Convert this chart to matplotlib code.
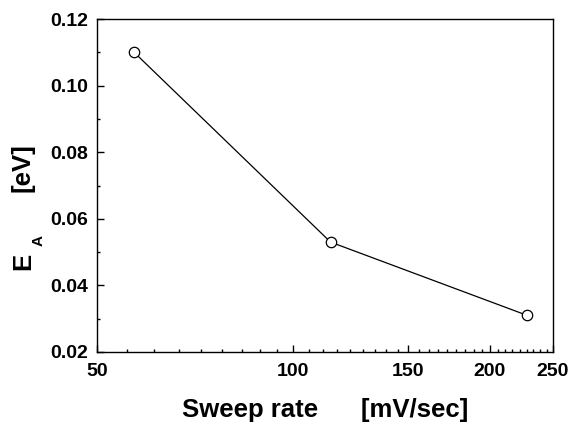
import numpy as np
import matplotlib
matplotlib.use('Agg')
import matplotlib.pyplot as plt
from matplotlib.ticker import FixedLocator, FormatStrFormatter, MultipleLocator

plt.rcParams['font.family'] = 'Liberation Sans'
plt.rcParams['font.weight'] = 'bold'

# sweep rate (mV/sec) vs activation energy (eV)
sweep_rate = [57, 114, 228]
e_a = [0.110, 0.053, 0.031]
x_ticks = [50, 100, 150, 200, 250]

W, H = 571, 425
fig = plt.figure(figsize=(W / 100, H / 100), dpi=100)
ax = fig.add_axes([0.17, 0.172, 0.7985, 0.783])

ax.plot(sweep_rate, e_a, color='black', lw=0.9, marker='o', ms=7.5,
        mfc='white', mec='black', mew=0.9)

ax.set_xscale('log')
ax.set_xlim(50, 250)
ax.set_ylim(0.02, 0.12)

ax.xaxis.set_major_locator(FixedLocator(x_ticks))
minor = []
for a, b in zip(x_ticks[:-1], x_ticks[1:]):
    minor += list(np.linspace(a, b, 10)[1:-1])
ax.xaxis.set_minor_locator(FixedLocator(minor))
ax.xaxis.set_major_formatter(FormatStrFormatter('%d'))
ax.xaxis.set_minor_formatter(plt.NullFormatter())

ax.yaxis.set_major_locator(MultipleLocator(0.02))
ax.yaxis.set_minor_locator(MultipleLocator(0.01))
ax.yaxis.set_major_formatter(FormatStrFormatter('%.2f'))

ax.tick_params(which='both', direction='in', top=False, right=False,
               width=1.0, labelsize=14)
ax.tick_params(which='major', length=5)
ax.tick_params(which='minor', length=2.5)
ax.tick_params(axis='x', which='major', pad=8)
ax.tick_params(axis='y', which='major', pad=6.5)
for s in ax.spines.values():
    s.set_linewidth(1.0)

ax.set_xlabel('Sweep rate      [mV/sec]', fontsize=18.5, fontweight='bold', labelpad=13)

# y label built from pieces so the subscript sits low like the original
lab = dict(rotation=90, rotation_mode='anchor', ha='center', va='baseline',
           fontweight='bold')
fig.text(30 / W, 1 - 261 / H, 'E', fontsize=18.5, **lab)
fig.text(43 / W, 1 - 241 / H, 'A', fontsize=11, **lab)
fig.text(30 / W, 1 - 168 / H, '[eV]', fontsize=18.5, **lab)

fig.savefig('out.png', dpi=100)
